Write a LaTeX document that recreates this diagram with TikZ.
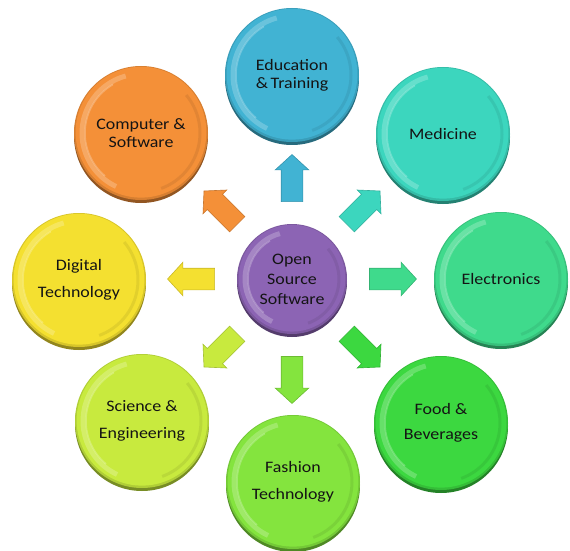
\documentclass[tikz,border=0pt]{standalone}
\usepackage{fontspec}
\setmainfont{Carlito}[FakeStretch=1.12]
\usetikzlibrary{shapes.arrows,calc}

\definecolor{cEdu}{HTML}{41B3D3}
\definecolor{cMed}{HTML}{3CD6BE}
\definecolor{cElec}{HTML}{3FDA8C}
\definecolor{cFood}{HTML}{3CD840}
\definecolor{cFash}{HTML}{84E43E}
\definecolor{cSci}{HTML}{C8EA3E}
\definecolor{cDig}{HTML}{F4E030}
\definecolor{cComp}{HTML}{F49038}
\definecolor{cOSS}{HTML}{8C64B4}
\definecolor{txt}{HTML}{141414}

% a glossy round button with its label
\newcommand\drawbutton[7]{% #1 name, #2 x, #3 y, #4 radius, #5 colour, #6 line skip, #7 label
  \begin{scope}[shift={(#2,#3)}]
    \fill[#5!60!black] (0,-3) circle (#4);
    \fill[#5!88!black] (0,0) circle (#4);
    \fill[#5] (0,0.8) circle (#4-1.6);
    \draw[white,opacity=.22,line width=5] (105:#4-8) arc (105:245:#4-8);
    \draw[white,opacity=.25,line width=1.5] (120:#4-11) arc (120:230:#4-11);
    \draw[#5!80!black,opacity=.35,line width=3] (-70:#4-8) arc (-70:40:#4-8);
    \node[btntext,font=\fontsize{16}{#6}\selectfont] (#1) at (0,0) {#7};
  \end{scope}}

\tikzset{
  btntext/.style={text=txt,align=center,inner sep=0pt},
  blockarrow/.style={single arrow,draw=#1!82!black,line width=0.6pt,fill=#1,
    minimum height=47pt,single arrow head extend=6pt,
    inner xsep=0pt,inner ysep=10.5pt,single arrow tip angle=95},
}

\begin{document}
\begin{tikzpicture}[x=1pt,y=1pt]
  \useasboundingbox (0,0) rectangle (570,550);

  % hub
  \drawbutton{oss}{292}{271}{55}{cOSS}{20}{Open\\Source\\Software}

  % surrounding fields
  \drawbutton{edu}{292}{475}{67}{cEdu}{18}{Education\\\&\,Training}
  \drawbutton{med}{443}{416}{67}{cMed}{18}{Medicine}
  \drawbutton{elec}{501}{271}{67}{cElec}{18}{Electronics}
  \drawbutton{food}{441}{127}{67}{cFood}{25}{Food \&\\Beverages}
  \drawbutton{fash}{293}{68}{67}{cFash}{27}{Fashion\\Technology}
  \drawbutton{sci}{142}{129}{67}{cSci}{27}{Science \&\\Engineering}
  \drawbutton{dig}{79}{270}{67}{cDig}{27}{Digital\\Technology}
  \drawbutton{comp}{141}{417}{67}{cComp}{18}{Computer \&\\Software}

  % block arrows pointing from the hub outwards
  \foreach \ang/\col/\nm in {90/cEdu/aEdu, 45/cMed/aMed, 0/cElec/aElec,
      -45/cFood/aFood, -90/cFash/aFash, -135/cSci/aSci, 180/cDig/aDig,
      135/cComp/aComp}
    \node[blockarrow=\col,rotate=\ang] (\nm) at ($(oss)+(\ang:96)$) {};
\end{tikzpicture}
\end{document}
